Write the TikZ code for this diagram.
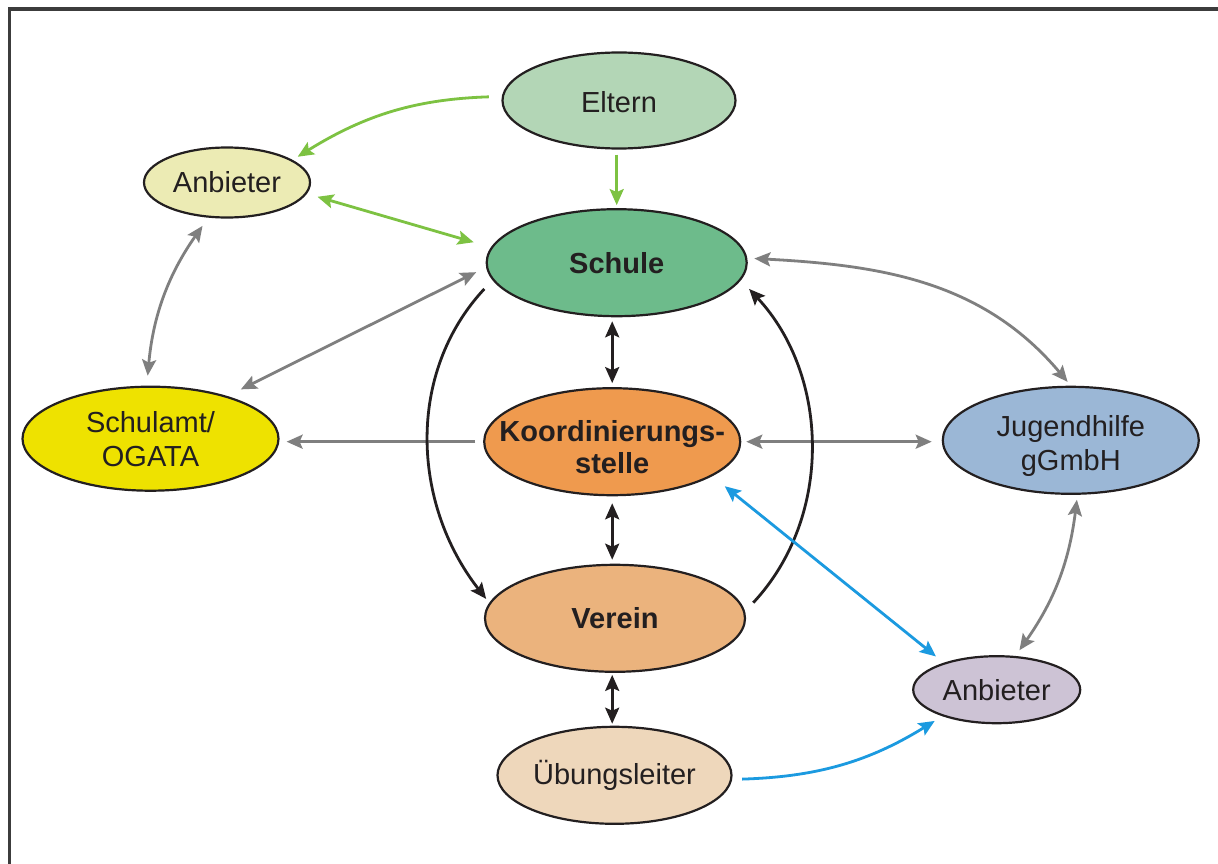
\documentclass[tikz,border=0pt]{standalone}
\usepackage{fontspec}
\setmainfont{Liberation Sans}
\usetikzlibrary{shapes.geometric,arrows.meta}

\definecolor{ink}{HTML}{231F20}
\definecolor{framecol}{HTML}{3C3C3C}
\definecolor{elternfill}{HTML}{B3D6B6}
\definecolor{anblfill}{HTML}{ECEBB4}
\definecolor{schulefill}{HTML}{6DBB8B}
\definecolor{schulamtfill}{HTML}{EEE200}
\definecolor{koordfill}{HTML}{EF9A4E}
\definecolor{jugfill}{HTML}{9BB7D6}
\definecolor{vereinfill}{HTML}{EBB37D}
\definecolor{anbrfill}{HTML}{CDC3D5}
\definecolor{uebfill}{HTML}{EED7BB}
\definecolor{grnline}{HTML}{7DC242}
\definecolor{gryline}{HTML}{7F7F7F}
\definecolor{bluline}{HTML}{1B9AE0}

\begin{document}
\begin{tikzpicture}[x=1pt,y=-1pt,
  bubble/.style={ellipse, draw=ink, line width=2.2pt, inner sep=0pt},
  txt/.style={font=\fontsize{29}{34}\selectfont, text=ink, align=center, inner sep=0pt},
  txtb/.style={font=\fontsize{29}{32}\selectfont\bfseries, text=ink, align=center, inner sep=0pt},
  >={Stealth[length=16pt,width=14pt,inset=3pt]},
  conn/.style={line width=2.8pt},
  grn/.style={conn, draw=grnline},
  gry/.style={conn, draw=gryline},
  blu/.style={conn, draw=bluline},
  blk/.style={conn, draw=ink},
]
\useasboundingbox (0,0) rectangle (1218,864);
\fill[white] (0,0) rectangle (1218,864);

% outer frame (top and left edges)
\draw[framecol, line width=3.4pt] (1218,9) -- (9.7,9) -- (9.7,864);

% nodes
\node[bubble, fill=elternfill, minimum width=233pt, minimum height=96pt,
      label={[txt,yshift=-2pt]center:Eltern}] (eltern) at (619,100.5) {};
\node[bubble, fill=anblfill, minimum width=166pt, minimum height=70pt,
      label={[txt]center:Anbieter}] (anbL) at (227,182.5) {};
\node[bubble, fill=schulefill, minimum width=260pt, minimum height=107pt,
      label={[txtb]center:Schule}] (schule) at (616.7,262.7) {};
\node[bubble, fill=schulamtfill, minimum width=256pt, minimum height=104pt,
      label={[txt]center:{Schulamt/\\OGATA}}] (schulamt) at (150.5,438.7) {};
\node[bubble, fill=koordfill, minimum width=256pt, minimum height=107pt,
      label={[txtb,yshift=-5pt]center:{Koordinierungs-\\stelle}}] (koord) at (612.2,441.7) {};
\node[bubble, fill=jugfill, minimum width=256pt, minimum height=107pt,
      label={[txt,yshift=-6pt]center:{Jugendhilfe\\gGmbH}}] (jug) at (1070.8,440.3) {};
\node[bubble, fill=vereinfill, minimum width=260pt, minimum height=107pt,
      label={[txtb]center:Verein}] (verein) at (615,618.3) {};
\node[bubble, fill=anbrfill, minimum width=167pt, minimum height=67pt,
      label={[txt]center:Anbieter}] (anbR) at (996.7,689.7) {};
\node[bubble, fill=uebfill, minimum width=234pt, minimum height=97pt,
      label={[txt]center:Übungsleiter}] (ueb) at (614.5,775.3) {};

% green connectors
\draw[grn,->,shorten <=13pt,shorten >=6pt] (eltern.178) to[bend right=15] (anbL.19);
\draw[grn,->,shorten <=5pt,shorten >=3pt] (schule.north |- eltern.south) -- (schule.north);
\draw[grn,<->,shorten <=11pt,shorten >=18pt] (anbL.-8) -- (schule.173);

% grey connectors
\draw[gry,<->,shorten <=10pt,shorten >=10pt] (anbL.-118) to[bend right=15] (schulamt.94);
\draw[gry,<->,shorten <=11pt,shorten >=15pt] (schule.182) -- (schulamt.29);
\draw[gry,->,shorten <=8pt,shorten >=7pt] (koord.west) -- (koord.west -| schulamt.east);
\draw[gry,<->,shorten <=5pt,shorten >=10pt] (koord.east) -- (koord.east -| jug.west);
\draw[gry,<->,shorten <=7pt,shorten >=5pt] (schule.2) to[out=-3,in=130] (jug.north);
\draw[gry,<->,shorten <=5pt,shorten >=7pt] (jug.-83) to[bend left=14] (anbR.61);

% black connectors
\draw[blk,<->,shorten <=4pt,shorten >=4pt] (koord.north |- schule.south) -- (koord.north);
\draw[blk,<->,shorten <=7pt,shorten >=4pt] (koord.south) -- (koord.south |- verein.north);
\draw[blk,<->,shorten <=2pt,shorten >=2pt] (koord.south |- verein.south) -- (koord.south |- ueb.north);
\draw[blk,->,shorten <=12pt,shorten >=5pt] (schule.-172) to[out=-133,in=128] (verein.173);
\draw[blk,->,shorten <=12pt,shorten >=12pt] (verein.3) to[out=47,in=-47] (schule.-8);

% blue connectors
\draw[blu,<->,shorten <=16pt,shorten >=10pt] (koord.-19) -- (anbR.153);
\draw[blu,->,shorten <=10pt,shorten >=9pt] (ueb.-2) to[bend right=15] (anbR.-154);
\end{tikzpicture}
\end{document}
